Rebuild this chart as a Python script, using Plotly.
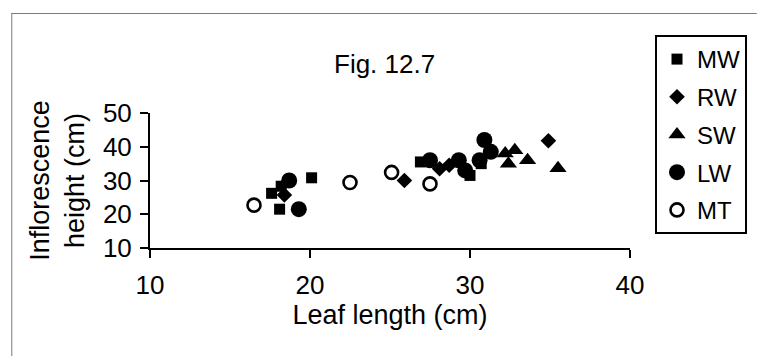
import plotly.graph_objects as go

# Leaf length (cm) and inflorescence height (cm) per population
mw_leaf = [17.6, 18.2, 18.1, 20.1, 26.9, 30.0, 30.7]
mw_height = [26.2, 28.3, 21.5, 30.8, 35.5, 31.5, 35.0]

rw_leaf = [18.4, 25.9, 28.1, 28.7, 34.9]
rw_height = [25.7, 30.0, 33.5, 34.5, 41.8]

sw_leaf = [32.2, 32.8, 32.4, 33.6, 35.5]
sw_height = [38.0, 39.0, 35.0, 36.0, 33.6]

lw_leaf = [18.7, 19.3, 27.5, 29.3, 29.7, 30.6, 30.9, 31.3]
lw_height = [30.0, 21.5, 36.0, 36.0, 33.0, 36.0, 42.0, 38.5]

mt_leaf = [16.5, 22.5, 25.1, 27.5]
mt_height = [22.7, 29.4, 32.4, 29.0]

x_ticks = [10, 20, 30, 40]
y_ticks = [10, 20, 30, 40, 50]

FONT = "Liberation Sans, Arial, sans-serif"

fig = go.Figure()
series = [
    ("MW", mw_leaf, mw_height, dict(symbol="square", size=11, color="black")),
    ("RW", rw_leaf, rw_height, dict(symbol="diamond", size=12, color="black")),
    ("SW", sw_leaf, sw_height, dict(symbol="triangle-up", size=15, color="black")),
    ("LW", lw_leaf, lw_height, dict(symbol="circle", size=16, color="black")),
    ("MT", mt_leaf, mt_height, dict(symbol="circle-open", size=13, color="black",
                                      line=dict(width=2.6, color="black"))),
]
for name, xs, ys, mk in series:
    fig.add_trace(go.Scatter(x=xs, y=ys, mode="markers", name=name, marker=mk,
                             legendgroup=name))

# plot area geometry in pixels (used for the outer frame lines)
W, H = 758, 356
L, R, T, B = 150, 127, 113, 108
pw, ph = W - L - R, H - T - B

def px_x(p):
    return (p - L) / pw

def px_y(p):
    return (H - B - p) / ph

frame = dict(color="#7a7a7a", width=1)
fig.add_shape(type="line", xref="paper", yref="paper",
              x0=px_x(11), x1=px_x(W), y0=px_y(13.5), y1=px_y(13.5), line=frame)
fig.add_shape(type="line", xref="paper", yref="paper",
              x0=px_x(11.5), x1=px_x(11.5), y0=px_y(13.5), y1=px_y(H), line=frame)

fig.add_annotation(text="Fig. 12.7", xref="paper", yref="paper",
                   x=px_x(385), y=px_y(47), showarrow=False,
                   font=dict(size=26, color="black", family=FONT))

fig.update_layout(
    width=W, height=H,
    margin=dict(l=L, r=R, t=T, b=B),
    paper_bgcolor="white", plot_bgcolor="white",
    font=dict(family=FONT, color="black", size=26),
    showlegend=True,
    legend=dict(
        x=px_x(655), y=px_y(35), xanchor="left", yanchor="top",
        bordercolor="black", borderwidth=2, bgcolor="white",
        font=dict(size=24, color="black", family=FONT),
        tracegroupgap=3.5, itemwidth=30, maxheight=400,
    ),
    xaxis=dict(
        range=[10, 40], tickvals=x_ticks, showgrid=False, zeroline=False,
        showline=True, linecolor="black", linewidth=2,
        ticks="outside", ticklen=8, tickwidth=2, tickcolor="black",
        tickfont=dict(size=26), ticklabelstandoff=5,
        title=dict(text="Leaf length (cm)", font=dict(size=27), standoff=6),
    ),
    yaxis=dict(
        range=[10, 50], tickvals=y_ticks, showgrid=False, zeroline=False,
        showline=True, linecolor="black", linewidth=2,
        ticks="outside", ticklen=8, tickwidth=2, tickcolor="black",
        tickfont=dict(size=26), ticklabelstandoff=3,
        title=dict(text="Inflorescence<br>height (cm)", font=dict(size=27), standoff=10),
    ),
)

fig.write_html("out.html")
